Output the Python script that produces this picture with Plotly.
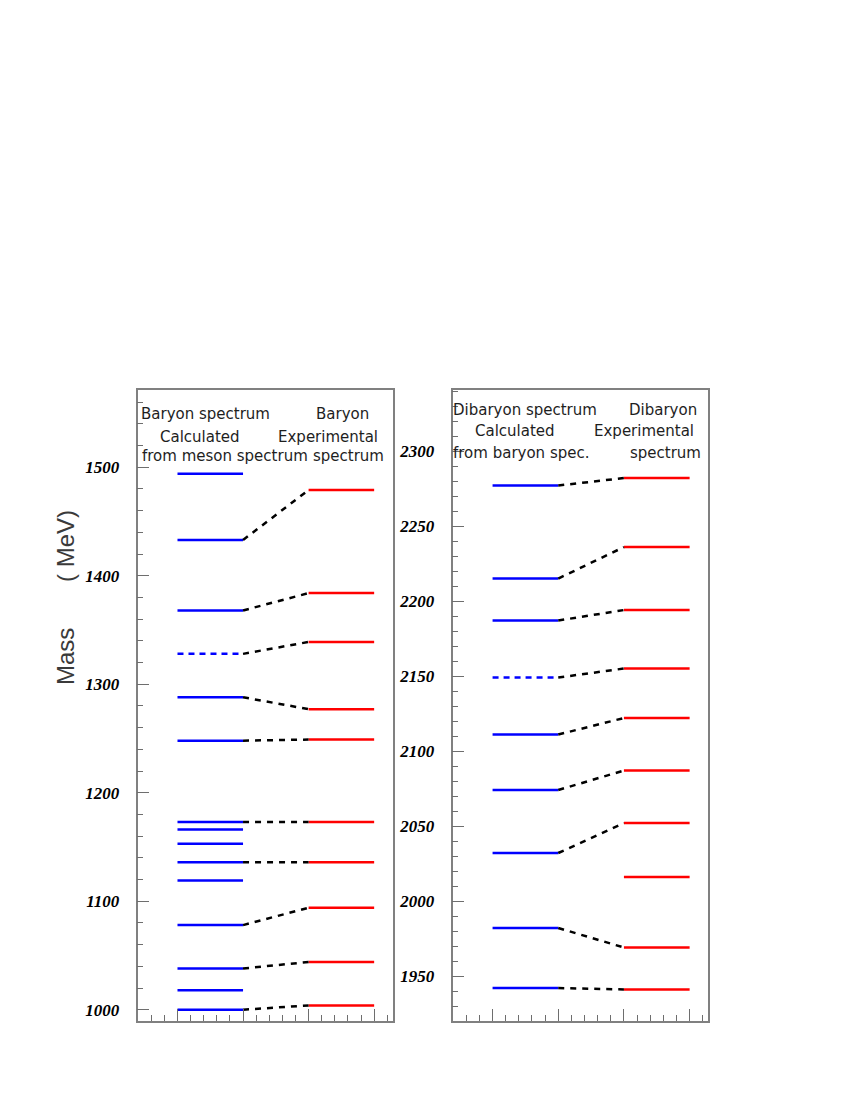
import plotly.graph_objects as go

# ---------------- data (MeV) ----------------
# Left panel: baryons
baryon_calc = [1000, 1018, 1038, 1078, 1119, 1136, 1153, 1166, 1173, 1248, 1288, 1368, 1433, 1494]
baryon_calc_tentative = [1328]
baryon_exp = [1004, 1044, 1094, 1136, 1173, 1249, 1277, 1339, 1384, 1479]
baryon_links_calc = [1000, 1038, 1078, 1136, 1173, 1248, 1288, 1328, 1368, 1433]
baryon_links_exp = [1004, 1044, 1094, 1136, 1173, 1249, 1277, 1339, 1384, 1479]

# Right panel: dibaryons
dibaryon_calc = [1942, 1982, 2032, 2074, 2111, 2187, 2215, 2277]
dibaryon_calc_tentative = [2149]
dibaryon_exp = [1941, 1969, 2016, 2052, 2087, 2122, 2155, 2194, 2236, 2282]
dibaryon_links_calc = [1942, 1982, 2032, 2074, 2111, 2149, 2187, 2215, 2277]
dibaryon_links_exp = [1941, 1969, 2052, 2087, 2122, 2155, 2194, 2236, 2282]

left_ticks = [1000, 1100, 1200, 1300, 1400, 1500]
right_ticks = [1950, 2000, 2050, 2100, 2150, 2200, 2250, 2300]

# column positions (x units)
CALC_X = (1, 2)
EXP_X = (3, 4)

# page body has an 8px margin: figure is sized to fit the 850x1100 window
OFF = 8
W, H = 850 - OFF, 1100 - OFF


def px_x(px):
    return (px - OFF) / W


def px_y(py):
    return 1 - (py - OFF) / H


def levels(vals, x0, x1):
    xs, ys = [], []
    for v in vals:
        xs += [x0, x1, None]
        ys += [v, v, None]
    return xs, ys


def links(a, b, x0, x1):
    xs, ys = [], []
    for va, vb in zip(a, b):
        xs += [x0, x1, None]
        ys += [va, vb, None]
    return xs, ys


fig = go.Figure()

BLUE, RED = "#0000ff", "#ff0000"
LW = 2.5


def add_panel(calc, calc_t, exp, lc, le, xa, ya):
    x, y = levels(calc, *CALC_X)
    fig.add_trace(go.Scatter(x=x, y=y, mode="lines", line=dict(color=BLUE, width=LW),
                             xaxis=xa, yaxis=ya, showlegend=False, hoverinfo="skip"))
    x, y = levels(calc_t, *CALC_X)
    fig.add_trace(go.Scatter(x=x, y=y, mode="lines", line=dict(color=BLUE, width=LW, dash="6px,5px"),
                             xaxis=xa, yaxis=ya, showlegend=False, hoverinfo="skip"))
    x, y = levels(exp, *EXP_X)
    fig.add_trace(go.Scatter(x=x, y=y, mode="lines", line=dict(color=RED, width=LW),
                             xaxis=xa, yaxis=ya, showlegend=False, hoverinfo="skip"))
    x, y = links(lc, le, CALC_X[1], EXP_X[0])
    fig.add_trace(go.Scatter(x=x, y=y, mode="lines", line=dict(color="black", width=LW, dash="6px,6px"),
                             xaxis=xa, yaxis=ya, showlegend=False, hoverinfo="skip"))


add_panel(baryon_calc, baryon_calc_tentative, baryon_exp, baryon_links_calc, baryon_links_exp, "x", "y")
add_panel(dibaryon_calc, dibaryon_calc_tentative, dibaryon_exp, dibaryon_links_calc, dibaryon_links_exp, "x2", "y2")

FRAME = "#808080"
TICKC = "#6e6e6e"
tickfont = dict(family="Liberation Serif, Times New Roman, serif", size=17, color="black",
                weight="bold", style="italic")


def xaxis_cfg(domain):
    return dict(domain=domain, range=[0.39, 4.28], showgrid=False, zeroline=False,
                showline=True, mirror=True, linecolor=FRAME, linewidth=1.5,
                ticks="inside", ticklen=12, tickwidth=1, tickcolor=TICKC,
                tick0=0, dtick=1, showticklabels=False,
                minor=dict(ticks="inside", ticklen=6, tickwidth=1, tickcolor=TICKC, dtick=0.2, tick0=0))


def yaxis_cfg(domain, rng, tickvals, minor_dt, anchor):
    return dict(domain=domain, range=rng, showgrid=False, zeroline=False, anchor=anchor,
                showline=True, mirror=True, linecolor=FRAME, linewidth=1.5,
                ticks="inside", ticklen=12, tickwidth=1, tickcolor=TICKC,
                tickvals=tickvals, ticktext=[str(t) for t in tickvals],
                tickfont=tickfont, ticklabelstandoff=13,
                minor=dict(ticks="inside", ticklen=6, tickwidth=1, tickcolor=TICKC,
                           dtick=minor_dt, tick0=1000))


ydom = [px_y(1021), px_y(390)]

fig.update_layout(
    width=W, height=H,
    margin=dict(l=0, r=0, t=0, b=0),
    plot_bgcolor="white", paper_bgcolor="white",
    xaxis=xaxis_cfg([px_x(137.5), px_x(392.5)]) | dict(anchor="y"),
    yaxis=yaxis_cfg(ydom, [989.6, 1571.2], left_ticks, 20, "x"),
    xaxis2=xaxis_cfg([px_x(452.5), px_x(708)]) | dict(anchor="y2"),
    yaxis2=yaxis_cfg(ydom, [1920, 2340.7], right_ticks, 10, "x2"),
)

TXT = dict(family="DejaVu Sans, Verdana, sans-serif", size=15, color="#1e1e1e")


def label(text, px, py):
    fig.add_annotation(text=text, x=px_x(px), y=px_y(py), xref="paper", yref="paper",
                       xanchor="center", yanchor="middle", showarrow=False, font=TXT)


# left panel header
label("Baryon spectrum", 205, 414)
label("Calculated", 200, 437)
label("from meson spectrum", 224.5, 456)
label("Baryon", 342.5, 414)
label("Experimental", 328, 437)
label("spectrum", 348.5, 456)
# right panel header
label("Dibaryon spectrum", 525, 410)
label("Calculated", 515.5, 431)
label("from baryon spec.", 521, 453)
label("Dibaryon", 662.5, 410)
label("Experimental", 643.5, 431)
label("spectrum", 665.5, 453)

TITLE = dict(family="Liberation Sans Narrow, Arial Narrow, sans-serif", size=24, color="#3a3a3a")
fig.add_annotation(text="Mass", x=px_x(65), y=px_y(657), xref="paper", yref="paper",
                   textangle=-90, showarrow=False, font=TITLE, xanchor="center", yanchor="middle")
fig.add_annotation(text="( MeV)", x=px_x(65), y=px_y(546), xref="paper", yref="paper",
                   textangle=-90, showarrow=False, font=TITLE, xanchor="center", yanchor="middle")

fig.write_html("out.html")
